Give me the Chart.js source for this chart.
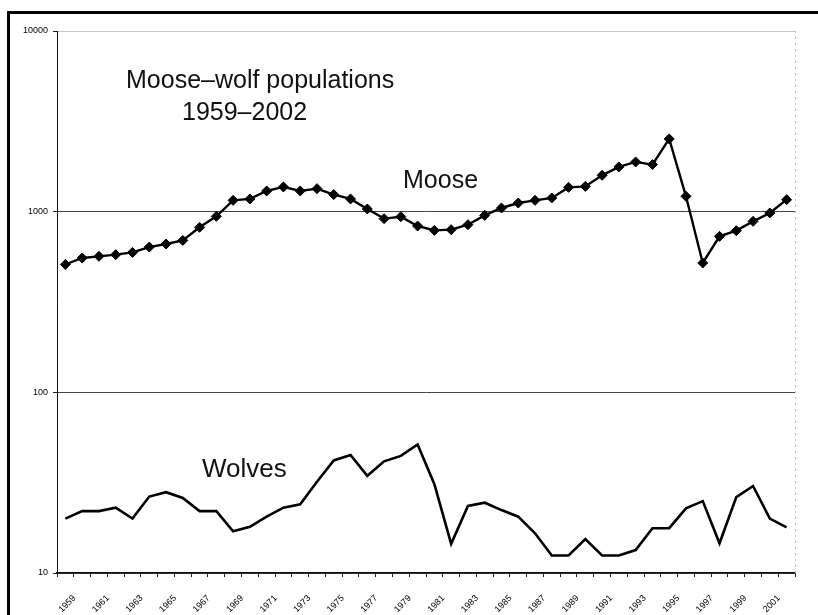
<!DOCTYPE html>
<html>
<head>
<meta charset="utf-8">
<script src="https://cdn.jsdelivr.net/npm/chart.js@4.4.0/dist/chart.umd.min.js"></script>
<style>
  html, body { margin: 0; padding: 0; background: #fff; overflow: hidden; }
  #wrap { position: relative; width: 818px; height: 615px; }
  #myChart { position: absolute; left: 0; top: 0; }
  #frame { position: absolute; left: 7px; top: 11px; width: 900px; height: 700px; border: 3px solid #000; pointer-events: none; }
</style>
</head>
<body>
<div id="wrap">
  <canvas id="myChart" width="818" height="615"></canvas>
  <div id="frame"></div>
</div>
<script>
const years = [
  "1959", "1960", "1961", "1962", "1963", "1964", "1965", "1966", "1967", "1968",
  "1969", "1970", "1971", "1972", "1973", "1974", "1975", "1976", "1977", "1978",
  "1979", "1980", "1981", "1982", "1983", "1984", "1985", "1986", "1987", "1988",
  "1989", "1990", "1991", "1992", "1993", "1994", "1995", "1996", "1997", "1998",
  "1999", "2000", "2001", "2002",
];

// every other year gets a label on the x axis
const shownYears = [
  "1959", "1961", "1963", "1965", "1967", "1969", "1971", "1973", "1975", "1977", "1979",
  "1981", "1983", "1985", "1987", "1989", "1991", "1993", "1995", "1997", "1999", "2001",
];

const moose = [
  510, 554, 566, 578, 595, 637, 662, 693, 819, 942,
  1155, 1176, 1302, 1371, 1302, 1341, 1243, 1176, 1035, 915,
  938, 833, 788, 795, 847, 954, 1048, 1117, 1155, 1191,
  1363, 1380, 1589, 1769, 1885, 1822, 2527, 1216, 520, 730,
  785, 884, 983, 1165,
];

const wolves = [
  20, 22, 22, 23, 20, 26.5, 28, 26, 22, 22,
  17, 18, 20.5, 23, 24, 32, 42, 45, 34.5, 41.5,
  44.5, 51.5, 31, 14.5, 23.5, 24.5, 22.3, 20.5, 16.6, 12.5,
  12.5, 15.4, 12.5, 12.5, 13.4, 17.7, 17.7, 22.8, 25, 14.6,
  26.3, 30.3, 20, 17.9,
];

const yTicks = [10, 100, 1000, 10000];

const FONT = "'Liberation Sans', Arial, sans-serif";

// text written straight onto the plot, like the original
const notes = {
  id: "notes",
  afterDraw(chart) {
    const ctx = chart.ctx;
    const area = chart.chartArea;
    ctx.save();
    // faint dashed right edge of the plot
    ctx.strokeStyle = "#b5b5b5";
    ctx.lineWidth = 1;
    ctx.setLineDash([2, 4]);
    ctx.beginPath();
    ctx.moveTo(area.right + 0.5, area.top);
    ctx.lineTo(area.right + 0.5, area.bottom);
    ctx.stroke();
    ctx.setLineDash([]);

    ctx.fillStyle = "#111";
    ctx.textAlign = "left";
    ctx.textBaseline = "alphabetic";
    ctx.font = "25px " + FONT;
    ctx.fillText("Moose\u2013wolf populations", 126, 88);
    ctx.fillText("1959\u20132002", 182, 120);
    ctx.fillText("Moose", 403, 188);
    ctx.font = "26px " + FONT;
    ctx.fillText("Wolves", 202, 477);
    ctx.restore();
  },
};

const ctx = document.getElementById("myChart").getContext("2d");

const data = {
  labels: years,
  datasets: [
    {
      label: "Moose",
      data: moose,
      borderColor: "#000",
      backgroundColor: "#000",
      borderWidth: 2.4,
      pointStyle: "rectRot",
      pointRadius: 5,
      pointBorderWidth: 1,
      tension: 0,
    },
    {
      label: "Wolves",
      data: wolves,
      borderColor: "#000",
      borderWidth: 2.6,
      pointRadius: 0,
      tension: 0,
    },
  ],
};

const config = {
  type: "line",
  data: data,
  options: {
    responsive: false,
    animation: false,
    layout: { padding: { left: 0, right: 23, top: 31, bottom: 0 } },
    plugins: {
      legend: { display: false },
      tooltip: { enabled: false },
    },
    scales: {
      x: {
        offset: true,
        afterFit: (s) => { s.height = 42; },
        grid: { offset: true, drawOnChartArea: false, tickLength: 4, tickColor: "#222" },
        border: { color: "#111", width: 1.5 },
        ticks: {
          autoSkip: false,
          minRotation: 45,
          maxRotation: 45,
          labelOffset: 9,
          padding: 16,
          color: "#000",
          font: { family: FONT, size: 9 },
          callback: function (v) {
            const lab = this.getLabelForValue(v);
            return shownYears.includes(lab) ? lab : "";
          },
        },
      },
      y: {
        type: "logarithmic",
        min: 10,
        max: 10000,
        afterBuildTicks: (s) => { s.ticks = yTicks.map((v) => ({ value: v })); },
        afterFit: (s) => { s.width = 57; },
        grid: {
          color: (c) => (c.tick && c.tick.value === 10000 ? "#c8c8c8" : "#444"),
          lineWidth: 1,
          tickLength: 4,
          tickColor: "#222",
        },
        border: { color: "#111", width: 1 },
        ticks: {
          padding: 5,
          color: "#000",
          font: { family: FONT, size: 9 },
          callback: (v) => String(v),
        },
      },
    },
  },
  plugins: [notes],
};

const chart = new Chart(ctx, config);
</script>
</body>
</html>
